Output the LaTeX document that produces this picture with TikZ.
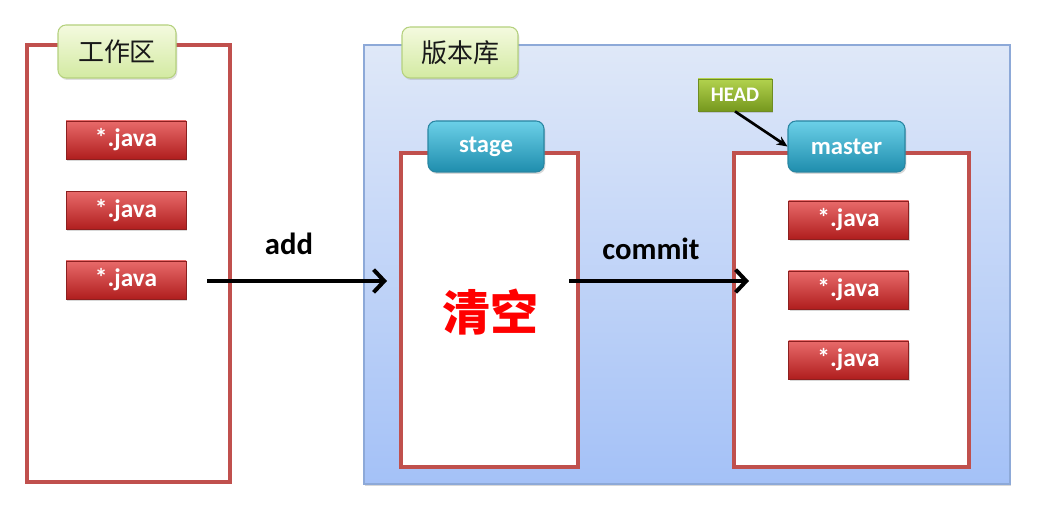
\documentclass[tikz,border=0pt]{standalone}
\usepackage{fontspec}
\setmainfont{Carlito}
\newfontfamily\cjk{Noto Sans CJK SC}
\usetikzlibrary{arrows.meta,shadows}
\definecolor{redline}{HTML}{C0504D}
\definecolor{javatop}{HTML}{E86A6A}
\definecolor{javabot}{HTML}{B01E1E}
\definecolor{javaline}{HTML}{8C2020}
\definecolor{tealtop}{HTML}{6BD0E8}
\definecolor{tealbot}{HTML}{1F8DAD}
\definecolor{tealline}{HTML}{2A86A2}
\definecolor{greentop}{HTML}{F4FADF}
\definecolor{greenbot}{HTML}{D3EAA2}
\definecolor{greenline}{HTML}{B5D17E}
\definecolor{headtop}{HTML}{B2D24E}
\definecolor{headbot}{HTML}{76981E}
\definecolor{headline}{HTML}{6E8C22}
\definecolor{repotop}{HTML}{DFE8F8}
\definecolor{repobot}{HTML}{A4C1F7}
\definecolor{repoline}{HTML}{8DA9D8}
\begin{document}
\begin{tikzpicture}[x=0.75pt,y=-0.75pt,
  pxsize/.style 2 args={minimum width=#1*0.75pt,minimum height=#2*0.75pt,inner sep=0pt},
  bigbox/.style={draw=redline,line width=2.7pt,fill=white,rectangle},
  javabox/.style={rectangle,draw=javaline,line width=0.5pt,top color=javatop,bottom color=javabot,
    text=white,font=\fontsize{19}{20}\selectfont\bfseries,pxsize={120}{38},
    drop shadow={opacity=0.3,shadow xshift=1pt,shadow yshift=-1.5pt}},
  greenlabel/.style={rectangle,rounded corners=6pt,draw=greenline,line width=0.8pt,top color=greentop,bottom color=greenbot,
    font=\cjk\fontsize{19.5}{21}\selectfont,text=black!90,
    drop shadow={opacity=0.25,shadow xshift=1pt,shadow yshift=-1.5pt}},
  teallabel/.style={rectangle,rounded corners=6pt,draw=tealline,line width=0.8pt,top color=tealtop,bottom color=tealbot,
    text=white,font=\fontsize{18.5}{20}\selectfont\bfseries,
    drop shadow={opacity=0.3,shadow xshift=1pt,shadow yshift=-1.5pt}},
  bigarrow/.style={line width=3pt,-{Straight Barb[length=8pt,width=17pt,line width=3pt]}},
  arrowlabel/.style={font=\fontsize{23}{25}\selectfont\bfseries}
]
\useasboundingbox[fill=white] (0,0) rectangle (1058,505);
% repository
\node[rectangle,draw=repoline,line width=0.8pt,top color=repotop,bottom color=repobot,pxsize={646}{439},
  drop shadow={opacity=0.3,shadow xshift=1pt,shadow yshift=-1.5pt}] (repo) at (687,264.5) {};
% working area and areas
\node[bigbox,pxsize={203}{437}] (ws) at (128.5,263.5) {};
\node[bigbox,pxsize={177}{314}] (stagebox) at (489.5,310) {};
\node[bigbox,pxsize={235}{314}] (masterbox) at (851.5,310) {};
% labels
\node[greenlabel,pxsize={118}{53}] (lws) at (117,51.5) {工作区};
\node[greenlabel,pxsize={116}{51}] (lrepo) at (460,52.5) {版本库};
\node[teallabel,pxsize={116}{51}] (lstage) at (486,146.5) {stage};
\node[teallabel,pxsize={117}{51}] (lmaster) at (846.5,146.5) {master};
\node[rectangle,draw=headline,line width=0.6pt,top color=headtop,bottom color=headbot,text=white,
  font=\fontsize{15.5}{17}\selectfont\bfseries,pxsize={74}{32},
  drop shadow={opacity=0.3,shadow xshift=1pt,shadow yshift=-1.5pt}] (head) at (735,95) {HEAD};
% java files
\node[javabox] (jl1) at (126,140) {*.java};
\node[javabox] (jl2) at (126,210.5) {*.java};
\node[javabox] (jl3) at (126,280) {*.java};
\node[javabox] (jr1) at (848.5,220) {*.java};
\node[javabox] (jr2) at (848.5,290) {*.java};
\node[javabox] (jr3) at (848.5,360) {*.java};
% cleared text
\node[text=red,font=\cjk\bfseries\fontsize{36}{40}\selectfont] (clear) at (490,312) {清空};
% arrows
\coordinate (addstart) at (207,281);
\coordinate (addend) at (387,281);
\coordinate (cstart) at (569,281);
\coordinate (cend) at (749,281);
\draw[bigarrow] (addstart) -- (addend);
\draw[bigarrow] (cstart) -- (cend);
\node[arrowlabel] (addlabel) at (289,244) {add};
\node[arrowlabel] (commitlabel) at (651,249) {commit};
\draw[line width=2pt,-{Stealth[length=8pt,width=7pt]}] (head.south) -- (lmaster.west);
\end{tikzpicture}
\end{document}
